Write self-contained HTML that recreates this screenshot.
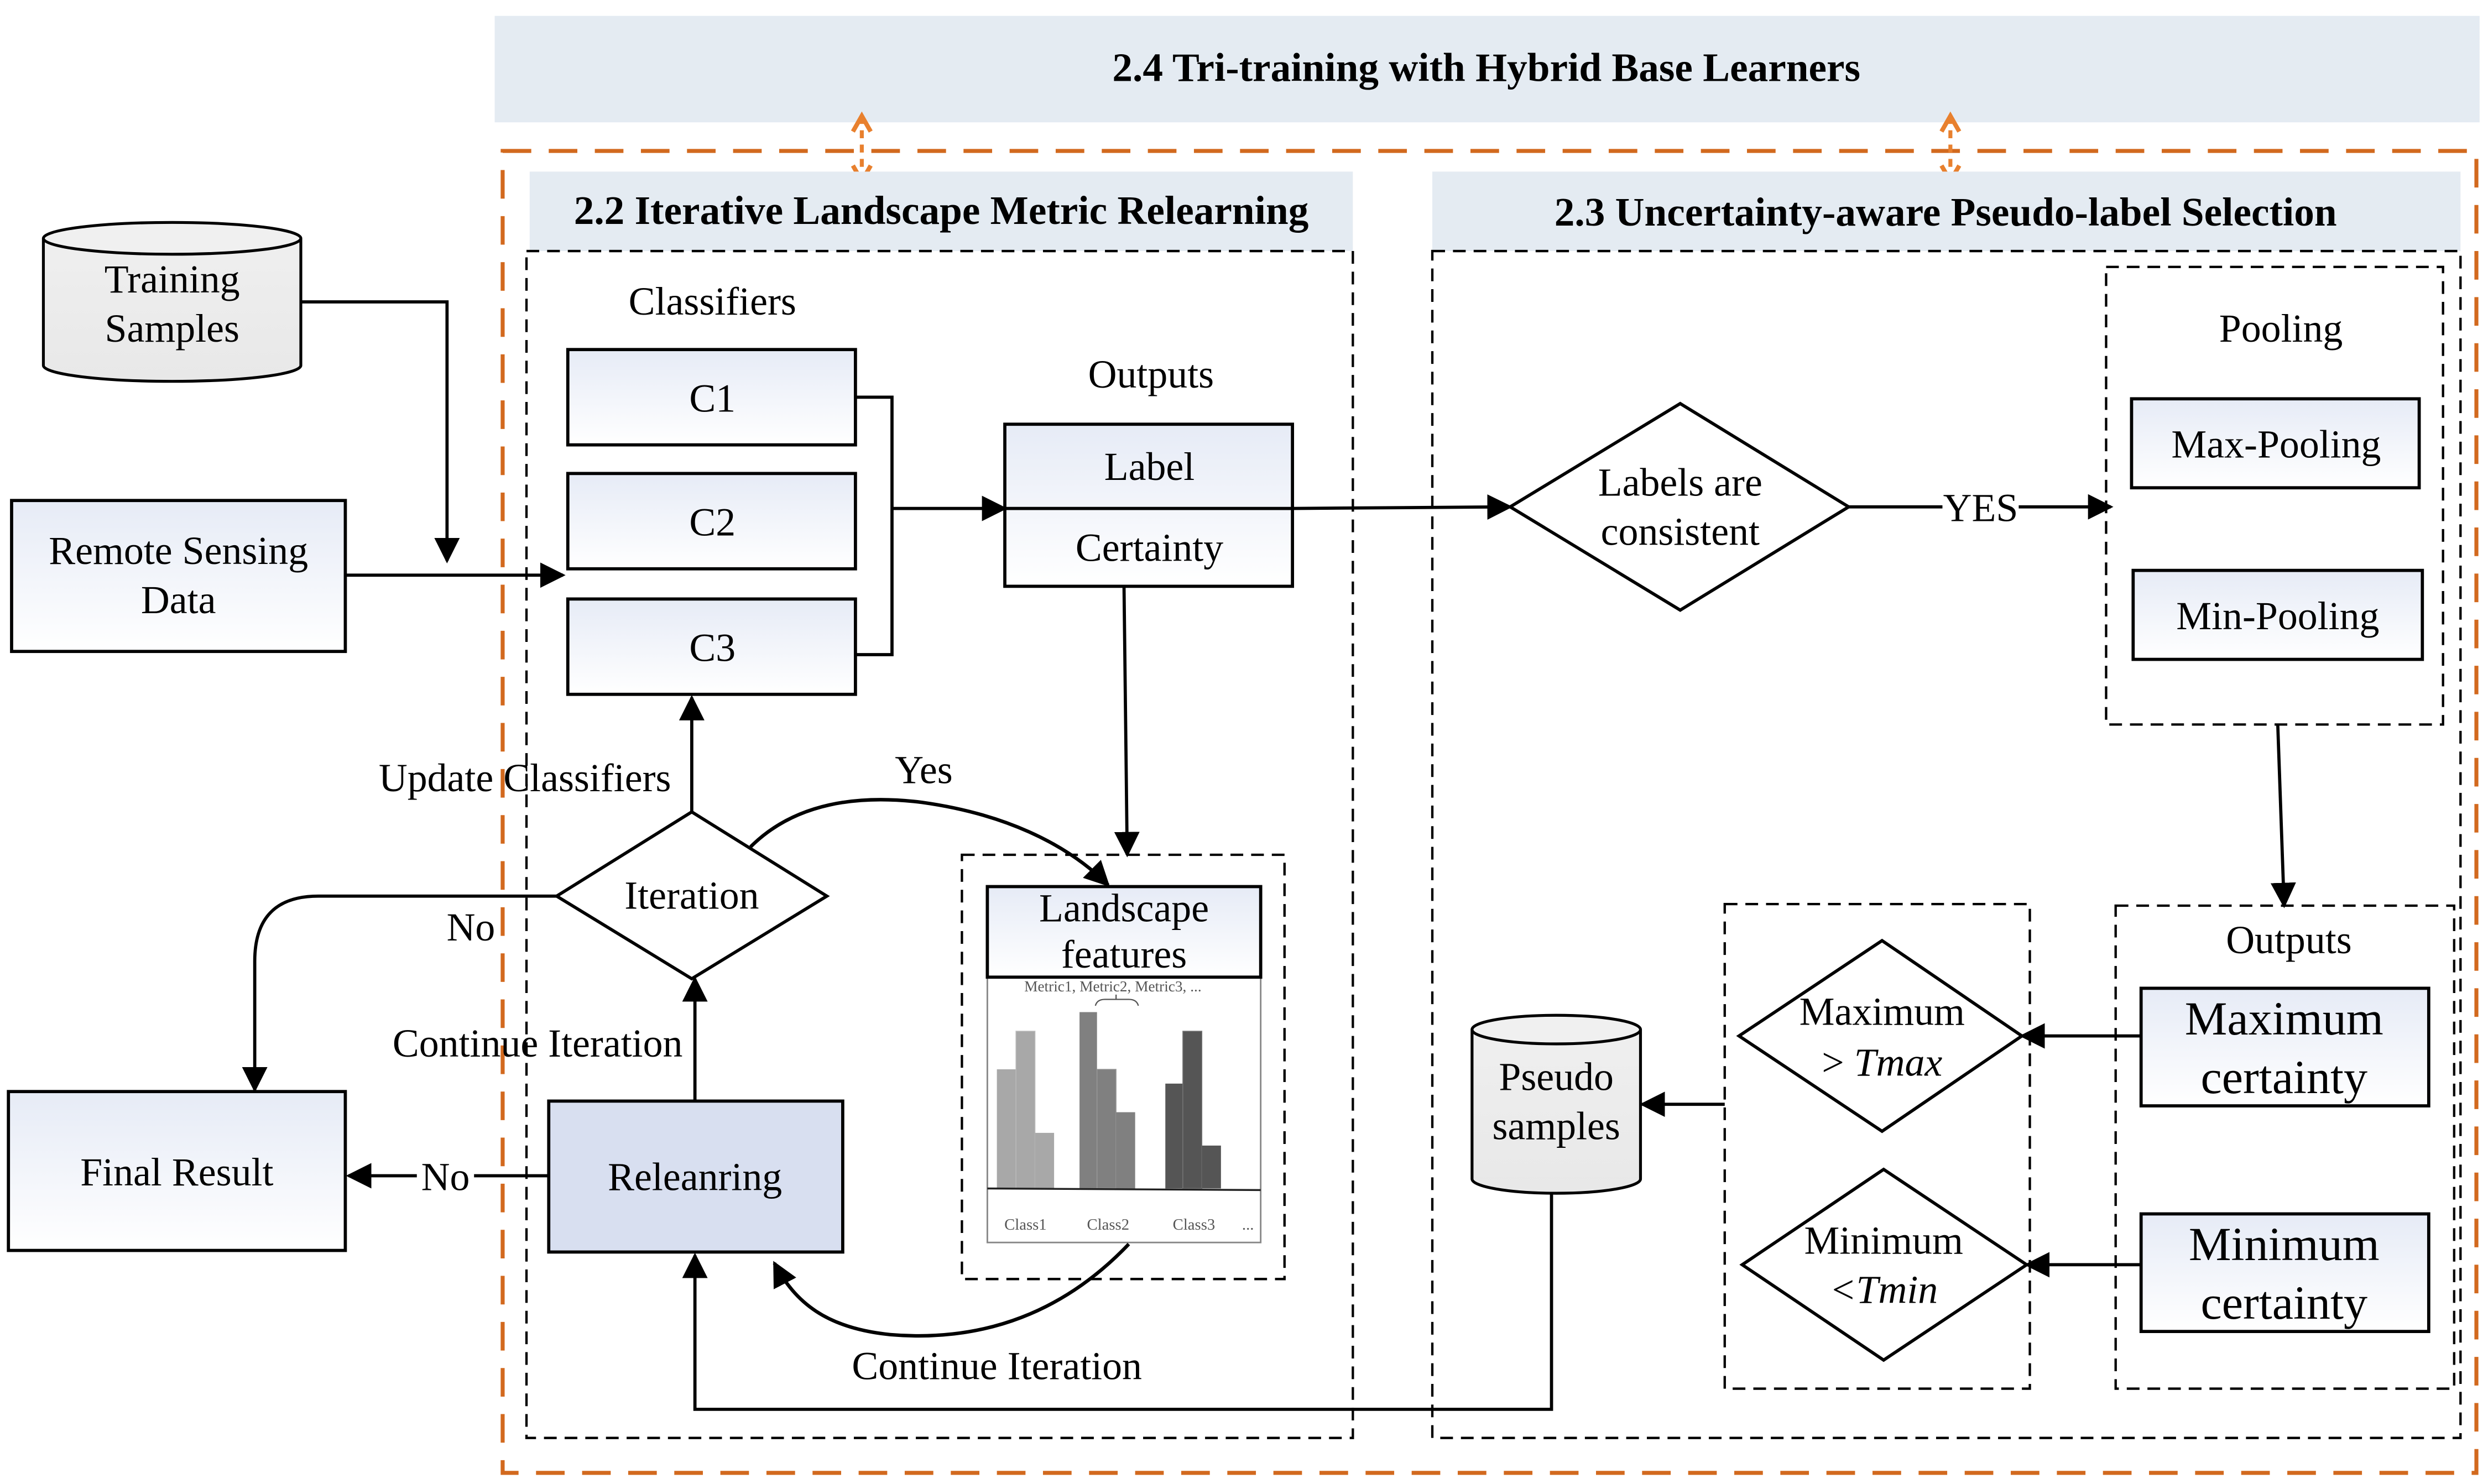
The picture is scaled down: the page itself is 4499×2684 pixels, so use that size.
<!DOCTYPE html>
<html><head><meta charset="utf-8"><style>
html,body{margin:0;padding:0;background:#fff;}
svg{display:block;}
text{font-family:"Liberation Serif",serif;fill:#000;}
</style></head><body>
<svg width="4499" height="2684" viewBox="0 0 1565 934" xmlns="http://www.w3.org/2000/svg">
<defs>
<linearGradient id="g" x1="0" y1="0" x2="0" y2="1"><stop offset="0" stop-color="#e6ebf6"/><stop offset="1" stop-color="#ffffff"/></linearGradient>
<linearGradient id="cy" x1="0" y1="0" x2="0" y2="1"><stop offset="0" stop-color="#efefef"/><stop offset="1" stop-color="#e8e8e8"/></linearGradient>
<marker id="ab" viewBox="0 0 10 10" refX="9" refY="5" markerWidth="16" markerHeight="16" orient="auto-start-reverse" markerUnits="userSpaceOnUse"><path d="M0,0 L10,5 L0,10 z" fill="#000"/></marker>
<marker id="ao" viewBox="0 0 10 10" refX="8" refY="5" markerWidth="14" markerHeight="14" orient="auto-start-reverse" markerUnits="userSpaceOnUse"><path d="M1,1 L8,5 L1,9" fill="none" stroke="#e8802e" stroke-width="2"/></marker>
</defs>

<rect x="311" y="10" width="1249" height="67" fill="#e4ebf2"/>
<text x="935" y="51" font-size="25.5" font-weight="bold" text-anchor="middle">2.4 Tri-training with Hybrid Base Learners</text>

<rect x="316" y="95" width="1242" height="832" fill="none" stroke="#d2691e" stroke-width="2.5" stroke-dasharray="18,11"/>
<line x1="542" y1="73" x2="542" y2="114" stroke="#e8802e" stroke-width="2.5" stroke-dasharray="5,4" marker-start="url(#ao)" marker-end="url(#ao)"/>
<line x1="1227" y1="73" x2="1227" y2="114" stroke="#e8802e" stroke-width="2.5" stroke-dasharray="5,4" marker-start="url(#ao)" marker-end="url(#ao)"/>

<rect x="333" y="108" width="518" height="50" fill="#e4ebf2"/>
<text x="592" y="141" font-size="25.5" font-weight="bold" text-anchor="middle">2.2 Iterative Landscape Metric Relearning</text>
<rect x="901" y="108" width="647" height="50" fill="#e4ebf2"/>
<text x="1224" y="142" font-size="25.5" font-weight="bold" text-anchor="middle">2.3 Uncertainty-aware Pseudo-label Selection</text>
<rect x="331" y="158" width="520" height="747" fill="none" stroke="#000" stroke-width="1.5" stroke-dasharray="8,5"/>
<rect x="901" y="158" width="647" height="747" fill="none" stroke="#000" stroke-width="1.5" stroke-dasharray="8,5"/>

<path d="M27,150 L27,230 A81,10 0 0 0 189,230 L189,150" fill="url(#cy)" stroke="#000" stroke-width="1.8"/>
<ellipse cx="108" cy="150" rx="81" ry="10" fill="#f0f0f0" stroke="#000" stroke-width="1.8"/>
<text x="108" y="184" font-size="25" text-anchor="middle">Training</text>
<text x="108" y="215" font-size="25" text-anchor="middle">Samples</text>
<polyline points="189,190 281,190 281,353" fill="none" stroke="#000" stroke-width="2" marker-end="url(#ab)"/>

<rect x="7" y="315" width="210" height="95" fill="url(#g)" stroke="#000" stroke-width="2"/>
<text x="112" y="355" font-size="25" text-anchor="middle">Remote Sensing</text>
<text x="112" y="386" font-size="25" text-anchor="middle">Data</text>
<line x1="217" y1="362" x2="354" y2="362" stroke="#000" stroke-width="2" marker-end="url(#ab)"/>

<text x="448" y="198" font-size="25" text-anchor="middle">Classifiers</text>
<rect x="357" y="220" width="181" height="60" fill="url(#g)" stroke="#000" stroke-width="2"/>
<text x="448" y="259" font-size="25" text-anchor="middle">C1</text>
<rect x="357" y="298" width="181" height="60" fill="url(#g)" stroke="#000" stroke-width="2"/>
<text x="448" y="337" font-size="25" text-anchor="middle">C2</text>
<rect x="357" y="377" width="181" height="60" fill="url(#g)" stroke="#000" stroke-width="2"/>
<text x="448" y="416" font-size="25" text-anchor="middle">C3</text>
<polyline points="538,250 561,250 561,412 538,412" fill="none" stroke="#000" stroke-width="2"/>
<line x1="561" y1="320" x2="632" y2="320" stroke="#000" stroke-width="2" marker-end="url(#ab)"/>

<text x="724" y="244" font-size="25" text-anchor="middle">Outputs</text>
<rect x="632" y="267" width="181" height="102" fill="url(#g)" stroke="#000" stroke-width="2"/>
<line x1="632" y1="320" x2="813" y2="320" stroke="#000" stroke-width="2"/>
<text x="723" y="302" font-size="25" text-anchor="middle">Label</text>
<text x="723" y="353" font-size="25" text-anchor="middle">Certainty</text>
<line x1="813" y1="320" x2="950" y2="319" stroke="#000" stroke-width="2" marker-end="url(#ab)"/>

<polygon points="950,319 1057,254 1163,319 1057,384" fill="#fff" stroke="#000" stroke-width="2"/>
<text x="1057" y="312" font-size="25" text-anchor="middle">Labels  are</text>
<text x="1057" y="343" font-size="25" text-anchor="middle">consistent</text>
<line x1="1163" y1="319" x2="1222" y2="319" stroke="#000" stroke-width="2"/>
<text x="1246" y="328" font-size="25" text-anchor="middle">YES</text>
<line x1="1270" y1="319" x2="1328" y2="319" stroke="#000" stroke-width="2" marker-end="url(#ab)"/>

<rect x="1325" y="168" width="212" height="288" fill="none" stroke="#000" stroke-width="1.5" stroke-dasharray="8,5"/>
<text x="1435" y="215" font-size="25" text-anchor="middle">Pooling</text>
<rect x="1341" y="251" width="181" height="56" fill="url(#g)" stroke="#000" stroke-width="2"/>
<text x="1432" y="288" font-size="25" text-anchor="middle">Max-Pooling</text>
<rect x="1342" y="359" width="182" height="56" fill="url(#g)" stroke="#000" stroke-width="2"/>
<text x="1433" y="396" font-size="25" text-anchor="middle">Min-Pooling</text>
<line x1="1433" y1="456" x2="1437" y2="570" stroke="#000" stroke-width="2" marker-end="url(#ab)"/>

<rect x="1331" y="570" width="213" height="304" fill="none" stroke="#000" stroke-width="1.5" stroke-dasharray="8,5"/>
<text x="1440" y="600" font-size="25" text-anchor="middle">Outputs</text>
<rect x="1347" y="622" width="181" height="74" fill="url(#g)" stroke="#000" stroke-width="2"/>
<text x="1437" y="651" font-size="30" text-anchor="middle">Maximum</text>
<text x="1437" y="688" font-size="30" text-anchor="middle">certainty</text>
<rect x="1347" y="764" width="181" height="74" fill="url(#g)" stroke="#000" stroke-width="2"/>
<text x="1437" y="793" font-size="30" text-anchor="middle">Minimum</text>
<text x="1437" y="830" font-size="30" text-anchor="middle">certainty</text>
<line x1="1347" y1="652" x2="1272" y2="652" stroke="#000" stroke-width="2" marker-end="url(#ab)"/>
<line x1="1347" y1="796" x2="1275" y2="796" stroke="#000" stroke-width="2" marker-end="url(#ab)"/>

<rect x="1085" y="569" width="192" height="305" fill="none" stroke="#000" stroke-width="1.5" stroke-dasharray="8,5"/>
<polygon points="1094,652 1184,592 1272,652 1184,712" fill="#fff" stroke="#000" stroke-width="2"/>
<text x="1184" y="645" font-size="25" text-anchor="middle">Maximum</text>
<text x="1184" y="677" font-size="25" text-anchor="middle">&gt; <tspan font-style="italic">Tmax</tspan></text>
<polygon points="1096,796 1185,736 1275,796 1185,856" fill="#fff" stroke="#000" stroke-width="2"/>
<text x="1185" y="789" font-size="25" text-anchor="middle">Minimum</text>
<text x="1185" y="820" font-size="25" text-anchor="middle" font-style="italic">&lt;Tmin</text>
<line x1="1085" y1="695" x2="1033" y2="695" stroke="#000" stroke-width="2" marker-end="url(#ab)"/>

<path d="M926,648 L926,742 A53,9 0 0 0 1032,742 L1032,648" fill="url(#cy)" stroke="#000" stroke-width="1.8"/>
<ellipse cx="979" cy="648" rx="53" ry="9" fill="#f0f0f0" stroke="#000" stroke-width="1.8"/>
<text x="979" y="686" font-size="25" text-anchor="middle">Pseudo</text>
<text x="979" y="717" font-size="25" text-anchor="middle">samples</text>
<polyline points="976,751 976,887 437,887 437,790" fill="none" stroke="#000" stroke-width="2" marker-end="url(#ab)"/>

<line x1="707" y1="369" x2="709" y2="538" stroke="#000" stroke-width="2" marker-end="url(#ab)"/>

<rect x="605" y="538" width="203" height="267" fill="none" stroke="#000" stroke-width="1.5" stroke-dasharray="8,5"/>
<rect x="621" y="615" width="172" height="167" fill="#fff" stroke="#888" stroke-width="1"/>
<rect x="621" y="558" width="172" height="57" fill="url(#g)" stroke="#000" stroke-width="2"/>
<text x="707" y="580" font-size="25" text-anchor="middle">Landscape</text>
<text x="707" y="609" font-size="25" text-anchor="middle">features</text>
<text x="700" y="624" font-size="9.5" text-anchor="middle" style="fill:#555">Metric1, Metric2, Metric3, ...</text>
<path d="M689,633 Q690,629 695,629 L710,629 Q715,629 716,633 M702,629 L702,626" fill="none" stroke="#555" stroke-width="0.8"/>
<rect x="627" y="673" width="12" height="75" fill="#a8a8a8"/>
<rect x="639" y="649" width="12" height="99" fill="#a8a8a8" stroke="#bbb" stroke-width="0.5"/>
<rect x="651" y="713" width="12" height="35" fill="#a8a8a8"/>
<rect x="679" y="637" width="11" height="111" fill="#808080"/>
<rect x="690" y="673" width="12" height="75" fill="#808080" stroke="#999" stroke-width="0.5"/>
<rect x="702" y="700" width="12" height="48" fill="#808080"/>
<rect x="733" y="682" width="11" height="66" fill="#555"/>
<rect x="744" y="649" width="12" height="99" fill="#555" stroke="#777" stroke-width="0.5"/>
<rect x="756" y="721" width="12" height="27" fill="#555"/>
<line x1="621" y1="748" x2="793" y2="749" stroke="#222" stroke-width="1.2"/>
<text x="645" y="774" font-size="10" text-anchor="middle" style="fill:#555">Class1</text>
<text x="697" y="774" font-size="10" text-anchor="middle" style="fill:#555">Class2</text>
<text x="751" y="774" font-size="10" text-anchor="middle" style="fill:#555">Class3</text>
<text x="785" y="774" font-size="10" text-anchor="middle" style="fill:#555">...</text>

<path d="M710,783 C670,825 620,845 560,840 C520,836 500,820 487,795" fill="none" stroke="#000" stroke-width="2.2" marker-end="url(#ab)"/>
<text x="627" y="868" font-size="25" text-anchor="middle">Continue Iteration</text>

<rect x="345" y="693" width="185" height="95" fill="#d8dff0" stroke="#000" stroke-width="2"/>
<text x="437" y="749" font-size="25" text-anchor="middle">Releanring</text>
<line x1="437" y1="693" x2="437" y2="616" stroke="#000" stroke-width="2" marker-end="url(#ab)"/>
<text x="338" y="665" font-size="25" text-anchor="middle">Continue Iteration</text>

<polygon points="350,564 435,511 520,564 435,616" fill="#fff" stroke="#000" stroke-width="2"/>
<text x="435" y="572" font-size="25" text-anchor="middle">Iteration</text>
<line x1="435" y1="511" x2="435" y2="439" stroke="#000" stroke-width="2" marker-end="url(#ab)"/>
<text x="330" y="498" font-size="25" text-anchor="middle">Update Classifiers</text>
<path d="M472,533 C500,505 540,500 580,505 C630,512 670,530 697,557" fill="none" stroke="#000" stroke-width="2.2" marker-end="url(#ab)"/>
<text x="581" y="493" font-size="25" text-anchor="middle">Yes</text>

<path d="M350,564 L200,564 Q160,564 160,605 L160,686" fill="none" stroke="#000" stroke-width="2" marker-end="url(#ab)"/>
<text x="296" y="592" font-size="25" text-anchor="middle">No</text>
<rect x="5" y="687" width="212" height="100" fill="url(#g)" stroke="#000" stroke-width="2"/>
<text x="111" y="746" font-size="25" text-anchor="middle">Final Result</text>
<line x1="345" y1="740" x2="219" y2="740" stroke="#000" stroke-width="2" marker-end="url(#ab)"/>
<rect x="262" y="727" width="36" height="26" fill="#fff"/>
<text x="280" y="749" font-size="25" text-anchor="middle">No</text>
</svg>
</body></html>
